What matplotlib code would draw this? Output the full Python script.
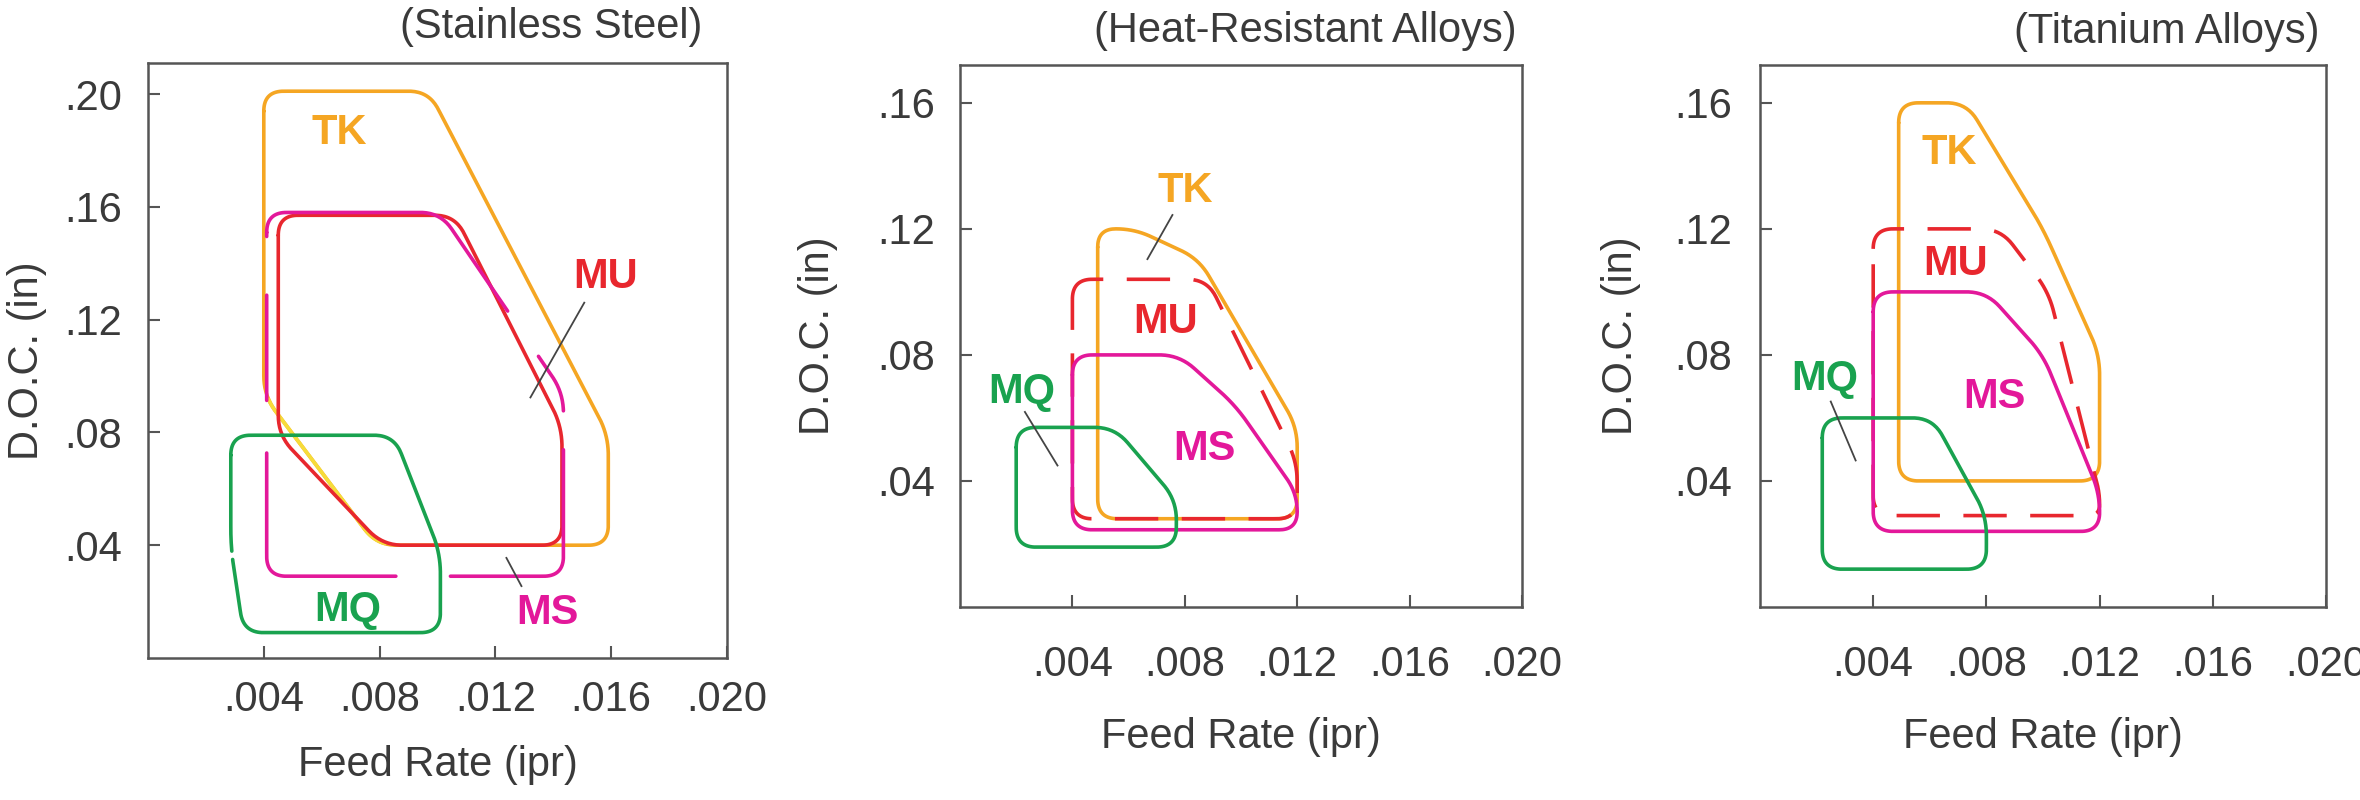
import numpy as np
import matplotlib.pyplot as plt

plt.rcParams['font.family'] = ['Liberation Sans', 'DejaVu Sans']

TK_COLOR = '#F5A623'
MU_COLOR = '#E8272E'
MS_COLOR = '#E3189A'
MQ_COLOR = '#19A24F'
YELLOW = '#F6DC3A'
TEXT_COLOR = '#3a3a3a'
AXIS_COLOR = '#555555'

TITLES = ['(Stainless Steel)', '(Heat-Resistant Alloys)', '(Titanium Alloys)']
X_TICKS = [0.004, 0.008, 0.012, 0.016, 0.020]
X_TICK_LABELS = ['.004', '.008', '.012', '.016', '.020']
Y_TICKS_SS = [0.04, 0.08, 0.12, 0.16, 0.20]
Y_TICK_LABELS_SS = ['.04', '.08', '.12', '.16', '.20']
Y_TICKS_ALLOY = [0.04, 0.08, 0.12, 0.16]
Y_TICK_LABELS_ALLOY = ['.04', '.08', '.12', '.16']

# corner points of each application range: feed rate (ipr), depth of cut (in)
# stainless steel
SS_TK_FEED = [0.0040, 0.0097, 0.0159, 0.0159, 0.0079, 0.0040]
SS_TK_DOC = [0.201, 0.201, 0.079, 0.040, 0.040, 0.093]
SS_MU_FEED = [0.0045, 0.0106, 0.0143, 0.0143, 0.0081, 0.0045]
SS_MU_DOC = [0.157, 0.157, 0.082, 0.040, 0.040, 0.079]
SS_MS_FEED = [0.0041, 0.0101, 0.01435, 0.01435, 0.0041]
SS_MS_DOC = [0.158, 0.158, 0.094, 0.029, 0.029]
SS_MQ_FEED = [0.00286, 0.0085, 0.0101, 0.0101, 0.0033, 0.00286]
SS_MQ_DOC = [0.079, 0.079, 0.037, 0.009, 0.009, 0.039]

# heat-resistant alloys
HR_TK_FEED = [0.0049, 0.0062, 0.0085, 0.0120, 0.0120, 0.0049]
HR_TK_DOC = [0.120, 0.120, 0.1105, 0.057, 0.028, 0.028]
HR_MU_FEED = [0.0040, 0.0088, 0.0120, 0.0120, 0.0040]
HR_MU_DOC = [0.104, 0.104, 0.046, 0.028, 0.028]
HR_MS_FEED = [0.0040, 0.0078, 0.0098, 0.0120, 0.0120, 0.0040]
HR_MS_DOC = [0.080, 0.080, 0.064, 0.036, 0.0245, 0.0245]
HR_MQ_FEED = [0.0020, 0.0055, 0.0077, 0.0077, 0.0020]
HR_MQ_DOC = [0.057, 0.057, 0.034, 0.019, 0.019]

# titanium alloys
TI_TK_FEED = [0.0049, 0.0073, 0.0100, 0.0120, 0.0120, 0.0049]
TI_TK_DOC = [0.160, 0.160, 0.120, 0.080, 0.040, 0.040]
TI_MU_FEED = [0.0040, 0.0085, 0.0102, 0.0120, 0.0120, 0.0040]
TI_MU_DOC = [0.120, 0.120, 0.100, 0.036, 0.029, 0.029]
TI_MS_FEED = [0.0040, 0.0080, 0.0100, 0.0120, 0.0120, 0.0040]
TI_MS_DOC = [0.100, 0.100, 0.080, 0.036, 0.024, 0.024]
TI_MQ_FEED = [0.0022, 0.0061, 0.0080, 0.0080, 0.0022]
TI_MQ_DOC = [0.060, 0.060, 0.029, 0.012, 0.012]

# label positions (feed, doc) for TK, MU, MS, MQ
SS_LABELS = [(0.0066, 0.186), (0.0158, 0.135), (0.0138, 0.016), (0.0069, 0.017)]
HR_LABELS = [(0.0080, 0.132), (0.0073, 0.0905), (0.0087, 0.050), (0.0022, 0.0683)]
TI_LABELS = [(0.0067, 0.144), (0.0069, 0.109), (0.0083, 0.0668), (0.0023, 0.0723)]

# leader lines
SS_LEADERS = [((0.01507, 0.01321), (0.126, 0.0924)), ((0.01238, 0.0129), (0.0355, 0.0255))]
HR_LEADERS = [((0.00756, 0.00667), (0.1244, 0.1104)), ((0.00231, 0.00347), (0.0619, 0.0449))]
TI_LEADERS = [((0.0025, 0.00338), (0.0652, 0.0465))]

# where a line is hidden behind another one: (feed0, feed1, doc0, doc1)
SS_MS_GAPS = [(0.0086, 0.0104, 0.0, 0.035), (0.0, 0.0044, 0.073, 0.0913),
              (0.0, 0.0044, 0.129, 0.149), (0.0112, 0.0139, 0.1075, 0.1225),
              (0.0139, 0.0150, 0.074, 0.0875)]
SS_MQ_GAPS = [(0.0, 0.0031, 0.035, 0.0372)]
SS_TK_YELLOW = (0.0, 0.0082, 0.0405, 0.092)

GRADE_NAMES = ['TK', 'MU', 'MS', 'MQ']
GRADE_COLORS = [TK_COLOR, MU_COLOR, MS_COLOR, MQ_COLOR]


def outline(ax, feed, doc, radius=20):
    # rounded closed outline, corners smoothed in pixel space
    pts = ax.transData.transform(np.column_stack([feed, doc]))
    n = len(pts)
    arcs = []
    for i in range(n):
        p, a, b = pts[i], pts[i - 1], pts[(i + 1) % n]
        la = np.hypot(*(a - p))
        lb = np.hypot(*(b - p))
        d = min(radius, la / 2, lb / 2)
        s = p + (a - p) / la * d
        e = p + (b - p) / lb * d
        t = np.linspace(0, 1, 20)[:, None]
        arcs.append((1 - t) ** 2 * s + 2 * (1 - t) * t * p + t ** 2 * e)
    pieces = []
    for i in range(n):
        pieces.append(arcs[i])
        start, end = arcs[i][-1], arcs[(i + 1) % n][0]
        k = max(int(np.hypot(*(end - start)) / 2), 2)
        t = np.linspace(0, 1, k)[:, None]
        pieces.append(start + (end - start) * t)
    pts = np.vstack(pieces + [arcs[0][:1]])
    return ax.transData.inverted().transform(pts)


def draw_region(ax, feed, doc, color, dashed=False, gaps=(), keep=None, z=2):
    xy = outline(ax, feed, doc)
    x, y = xy[:, 0].copy(), xy[:, 1].copy()
    for x0, x1, y0, y1 in gaps:
        m = (x > x0) & (x < x1) & (y > y0) & (y < y1)
        x[m] = np.nan
        y[m] = np.nan
    if keep is not None:
        x0, x1, y0, y1 = keep
        m = ~((x > x0) & (x < x1) & (y > y0) & (y < y1))
        x[m] = np.nan
        y[m] = np.nan
    ls = (0, (12, 6.5)) if dashed else '-'
    ax.plot(x, y, color=color, lw=2.6, ls=ls, solid_capstyle='round',
            dash_capstyle='butt', zorder=z)


panels = [
    dict(title=TITLES[0], ylim=0.211, yticks=Y_TICKS_SS, ylabels=Y_TICK_LABELS_SS,
         regions=[(SS_TK_FEED, SS_TK_DOC), (SS_MU_FEED, SS_MU_DOC),
                  (SS_MS_FEED, SS_MS_DOC), (SS_MQ_FEED, SS_MQ_DOC)],
         gaps=[(), (), SS_MS_GAPS, SS_MQ_GAPS], dashed=False,
         labels=SS_LABELS, leaders=SS_LEADERS,
         pos=[148, 63, 727, 658], xpad=16, ypad=18.5,
         xlab=-0.18, ylab=-0.209, tx=0.957, ty=1.0605),
    dict(title=TITLES[1], ylim=0.172, yticks=Y_TICKS_ALLOY, ylabels=Y_TICK_LABELS_ALLOY,
         regions=[(HR_TK_FEED, HR_TK_DOC), (HR_MU_FEED, HR_MU_DOC),
                  (HR_MS_FEED, HR_MS_DOC), (HR_MQ_FEED, HR_MQ_DOC)],
         gaps=[(), (), (), ()], dashed=True,
         labels=HR_LABELS, leaders=HR_LEADERS,
         pos=[960, 65, 1522, 607], xpad=27, ypad=18,
         xlab=-0.24, ylab=-0.253, tx=0.991, ty=1.0627),
    dict(title=TITLES[2], ylim=0.172, yticks=Y_TICKS_ALLOY, ylabels=Y_TICK_LABELS_ALLOY,
         regions=[(TI_TK_FEED, TI_TK_DOC), (TI_MU_FEED, TI_MU_DOC),
                  (TI_MS_FEED, TI_MS_DOC), (TI_MQ_FEED, TI_MQ_DOC)],
         gaps=[(), (), (), ()], dashed=True,
         labels=TI_LABELS, leaders=TI_LEADERS,
         pos=[1760, 65, 2326, 607], xpad=27, ypad=20,
         xlab=-0.24, ylab=-0.2456, tx=0.988, ty=1.061),
]

W, H = 2360, 800
fig = plt.figure(figsize=(W / 100, H / 100), dpi=100)

for i, p in enumerate(panels):
    l, t, r, b = p['pos']
    ax = fig.add_axes([l / W, 1 - b / H, (r - l) / W, (b - t) / H])
    ax.set_xlim(0, 0.020)
    ax.set_ylim(0, p['ylim'])
    ax.set_xticks(X_TICKS)
    ax.set_xticklabels(X_TICK_LABELS)
    ax.set_yticks(p['yticks'])
    ax.set_yticklabels(p['ylabels'])
    ax.tick_params(axis='both', direction='in', length=8.5, width=1.5,
                   color=AXIS_COLOR, labelsize=30, labelcolor=TEXT_COLOR)
    ax.tick_params(axis='x', pad=p['xpad'])
    ax.tick_params(axis='y', pad=p['ypad'])
    for s in ax.spines.values():
        s.set_color(AXIS_COLOR)
        s.set_linewidth(1.8)

    ax.set_xlabel('Feed Rate (ipr)', fontsize=30, color=TEXT_COLOR, va='center')
    ax.xaxis.set_label_coords(0.5, p['xlab'])
    ax.set_ylabel('D.O.C. (in)', fontsize=30, color=TEXT_COLOR, va='center')
    ax.yaxis.set_label_coords(p['ylab'], 0.5)
    ax.text(p['tx'], p['ty'], p['title'], transform=ax.transAxes, ha='right',
            va='center', fontsize=30, color=TEXT_COLOR)

    for k, ((feed, doc), color) in enumerate(zip(p['regions'], GRADE_COLORS)):
        dashed = p['dashed'] and GRADE_NAMES[k] == 'MU'
        draw_region(ax, feed, doc, color, dashed=dashed, gaps=p['gaps'][k], z=2 + k)
    if i == 0:
        draw_region(ax, SS_TK_FEED, SS_TK_DOC, YELLOW, keep=SS_TK_YELLOW, z=2.5)

    for name, color, (lx, ly) in zip(GRADE_NAMES, GRADE_COLORS, p['labels']):
        ax.text(lx, ly, name, color=color, fontsize=30, fontweight='bold',
                ha='center', va='center', zorder=8)
    for xs, ys in p['leaders']:
        ax.plot(xs, ys, color='#444444', lw=1.3, zorder=7)

fig.savefig('out.png', dpi=100)
